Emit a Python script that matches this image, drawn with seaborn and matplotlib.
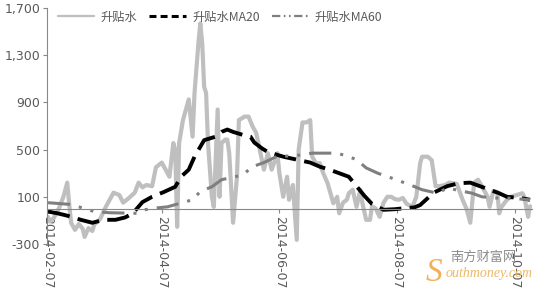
import matplotlib
matplotlib.use("Agg")
import matplotlib.pyplot as plt
import matplotlib.dates as mdates
from matplotlib.lines import Line2D
from matplotlib.ticker import FuncFormatter, FixedLocator
import seaborn as sns
import pandas as pd

# ---------------- data ----------------
basis_dates = [
    "2014-02-07", "2014-02-08", "2014-02-10", "2014-02-12", "2014-02-13", "2014-02-15",
    "2014-02-17", "2014-02-18", "2014-02-19", "2014-02-21", "2014-02-23", "2014-02-25",
    "2014-02-26", "2014-02-28", "2014-03-02", "2014-03-03", "2014-03-06", "2014-03-09",
    "2014-03-11", "2014-03-13", "2014-03-16", "2014-03-18", "2014-03-21", "2014-03-24",
    "2014-03-26", "2014-03-28", "2014-03-30", "2014-04-02", "2014-04-04", "2014-04-07",
    "2014-04-09", "2014-04-11", "2014-04-13", "2014-04-14", "2014-04-15", "2014-04-16",
    "2014-04-18", "2014-04-21", "2014-04-23", "2014-04-24", "2014-04-26", "2014-04-27",
    "2014-04-28", "2014-04-29", "2014-04-30", "2014-05-01", "2014-05-03", "2014-05-04",
    "2014-05-06", "2014-05-07", "2014-05-08", "2014-05-10", "2014-05-11", "2014-05-12",
    "2014-05-14", "2014-05-16", "2014-05-17", "2014-05-20", "2014-05-22", "2014-05-24",
    "2014-05-26", "2014-05-29", "2014-05-30", "2014-06-01", "2014-06-03", "2014-06-06",
    "2014-06-07", "2014-06-09", "2014-06-11", "2014-06-12", "2014-06-14", "2014-06-16",
    "2014-06-17", "2014-06-19", "2014-06-21", "2014-06-23", "2014-06-24", "2014-06-26",
    "2014-06-28", "2014-06-29", "2014-07-02", "2014-07-05", "2014-07-07", "2014-07-08",
    "2014-07-10", "2014-07-12", "2014-07-13", "2014-07-15", "2014-07-17", "2014-07-19",
    "2014-07-20", "2014-07-22", "2014-07-24", "2014-07-25", "2014-07-27", "2014-07-29",
    "2014-07-31", "2014-08-02", "2014-08-04", "2014-08-06", "2014-08-08", "2014-08-10",
    "2014-08-12", "2014-08-15", "2014-08-17", "2014-08-19", "2014-08-20", "2014-08-23",
    "2014-08-25", "2014-08-27", "2014-08-29", "2014-09-01", "2014-09-03", "2014-09-07",
    "2014-09-10", "2014-09-12", "2014-09-14", "2014-09-16", "2014-09-18", "2014-09-20",
    "2014-09-23", "2014-09-24", "2014-09-26", "2014-09-28", "2014-09-29", "2014-09-30",
    "2014-10-03", "2014-10-05", "2014-10-08", "2014-10-11", "2014-10-12", "2014-10-14",
    "2014-10-15",
]
basis_values = [
    -70, -110, -80, -20, 15, 100,
    220, 40, -120, -180, -130, -170,
    -240, -165, -190, -135, -90, 15,
    75, 135, 115, 50, 90, 135,
    220, 180, 200, 190, 350, 390,
    330, 270, 555, 500, -155, 555,
    750, 925, 610, 980, 1400, 1570,
    1400, 1030, 980, 555, 100, 15,
    840, 100, 555, 585, 585, 470,
    -120, 270, 750, 780, 780, 700,
    640, 410, 330, 470, 330, 470,
    300, 100, 270, 75, 200, -265,
    500, 730, 730, 750, 440, 385,
    385, 330, 215, 45, 100, -40,
    50, 75, 130, 160, 15, 160,
    50, -95, -95, 20, 0, -70,
    50, 100, 100, 80, 75, 90,
    40, 15, 100, 385, 440, 440,
    410, 190, 190, 200, 220, 210,
    75, 0, -120, 220, 245, 190,
    100, 15, 150, 140, -40, 10,
    75, 100, 115, 130, 100, -70,
    20,
]

ma20_dates = [
    "2014-02-07", "2014-02-12", "2014-02-17", "2014-02-24", "2014-03-02", "2014-03-08",
    "2014-03-14", "2014-03-19", "2014-03-23", "2014-03-28", "2014-04-02", "2014-04-08",
    "2014-04-14", "2014-04-17", "2014-04-21", "2014-04-24", "2014-04-29", "2014-05-05",
    "2014-05-08", "2014-05-11", "2014-05-14", "2014-05-19", "2014-05-23", "2014-05-25",
    "2014-05-29", "2014-06-01", "2014-06-09", "2014-06-16", "2014-06-23", "2014-06-28",
    "2014-07-03", "2014-07-08", "2014-07-13", "2014-07-17", "2014-07-21", "2014-07-25",
    "2014-07-31", "2014-08-06", "2014-08-12", "2014-08-16", "2014-08-19", "2014-08-26",
    "2014-09-02", "2014-09-08", "2014-09-14", "2014-09-19", "2014-09-24", "2014-09-29",
    "2014-10-03", "2014-10-10", "2014-10-15",
]
ma20_values = [
    -25, -40, -60, -95, -120, -95,
    -95, -75, -40, 55, 100, 140,
    185, 270, 330, 440, 580, 610,
    650, 670, 650, 625, 610, 560,
    510, 480, 440, 415, 390, 355,
    330, 300, 270, 190, 110, 40,
    -10, -5, 5, 10, 30, 135,
    190, 215, 220, 190, 160, 130,
    100, 90, 75,
]

ma60_dates = [
    "2014-02-07", "2014-02-19", "2014-02-26", "2014-03-03", "2014-03-11", "2014-03-25",
    "2014-03-29", "2014-04-04", "2014-04-10", "2014-04-23", "2014-04-27", "2014-05-03",
    "2014-05-08", "2014-05-19", "2014-05-24", "2014-05-30", "2014-06-06", "2014-06-14",
    "2014-06-24", "2014-07-01", "2014-07-07", "2014-07-13", "2014-07-17", "2014-07-22",
    "2014-07-28", "2014-08-04", "2014-08-14", "2014-08-20", "2014-08-28", "2014-09-02",
    "2014-09-15", "2014-09-20", "2014-09-27", "2014-10-03", "2014-10-15",
]
ma60_values = [
    50, 35, 0, -25, -35, -40,
    -10, 5, 15, 75, 145, 185,
    245, 285, 355, 390, 445, 445,
    470, 470, 470, 440, 415, 345,
    300, 260, 200, 160, 130, 175,
    130, 100, 90, 90, 75,
]

series_labels = ["升贴水", "升贴水MA20", "升贴水MA60"]
x_tick_dates = ["2014-02-07", "2014-04-07", "2014-06-07", "2014-08-07", "2014-10-07"]
y_ticks = [-300, 100, 500, 900, 1300, 1700]

# ---------------- style ----------------
sns.set_theme(style="white")
plt.rcParams['font.family'] = ['DejaVu Sans', 'Noto Sans CJK SC']
plt.rcParams['axes.unicode_minus'] = False
plt.rcParams['lines.scale_dashes'] = False

CJK = ['Noto Sans CJK SC', 'DejaVu Sans']
TXT = '#595959'
AX = '#888888'

fig = plt.figure(figsize=(5.36, 2.90), dpi=100)
ax = fig.add_axes([47 / 536, 1 - 244 / 290, (532 - 47) / 536, (244 - 8) / 290])

df_b = pd.DataFrame({"date": pd.to_datetime(basis_dates), "v": basis_values})
df_20 = pd.DataFrame({"date": pd.to_datetime(ma20_dates), "v": ma20_values})
df_60 = pd.DataFrame({"date": pd.to_datetime(ma60_dates), "v": ma60_values})

sns.lineplot(data=df_b, x="date", y="v", ax=ax, color='#BFBFBF', linewidth=3.0,
             estimator=None, sort=False)
ax.lines[-1].set_solid_joinstyle('round')
sns.lineplot(data=df_20, x="date", y="v", ax=ax, color='black', linewidth=2.8,
             estimator=None, sort=False)
ax.lines[-1].set_linestyle((0, (16, 6)))
sns.lineplot(data=df_60, x="date", y="v", ax=ax, color='#7F7F7F', linewidth=2.2,
             estimator=None, sort=False)
ax.lines[-1].set_linestyle((0, (16, 6.5, 2.2, 6.5, 2.2, 6.5)))

ax.set_ylim(-300, 1700)
ax.set_xlim(pd.Timestamp("2014-02-06 12:00"), pd.Timestamp("2014-10-16"))
ax.set_xlabel("")
ax.set_ylabel("")

ax.yaxis.set_major_locator(FixedLocator(y_ticks))
ax.yaxis.set_major_formatter(FuncFormatter(lambda v, p: f"{int(v):,}"))
ax.set_xticks(pd.to_datetime(x_tick_dates))
ax.xaxis.set_major_formatter(mdates.DateFormatter('%Y-%m-%d'))

for s in ['top', 'right']:
    ax.spines[s].set_visible(False)
ax.spines['left'].set_color(AX)
ax.spines['left'].set_linewidth(0.8)
ax.spines['bottom'].set_color(AX)
ax.spines['bottom'].set_linewidth(0.8)
ax.spines['bottom'].set_position(('data', 0))

ax.tick_params(axis='y', left=True, direction='out', length=3, width=0.8, color=AX,
               labelsize=9, labelcolor=TXT, pad=2)
ax.tick_params(axis='x', bottom=True, direction='out', length=3, width=0.8, color=AX,
               labelsize=9, labelcolor=TXT, pad=2, labelrotation=-90)
ax.grid(False)

handles = [
    Line2D([], [], color='#BFBFBF', lw=1.6),
    Line2D([], [], color='black', lw=2.2, linestyle=(0, (5, 3))),
    Line2D([], [], color='#7F7F7F', lw=1.6, linestyle=(0, (6, 2.5, 1.2, 2.5, 1.2, 2.5))),
]
fig.legend(handles, series_labels, loc='center', bbox_to_anchor=(220 / 536, 1 - 17 / 290),
           ncol=3, frameon=False, prop={'family': CJK, 'size': 8.8},
           handlelength=3.0, handletextpad=0.5, columnspacing=1.0, labelcolor=TXT)

# watermark
fig.text(426 / 536, 1 - 281 / 290, "S", fontsize=24, style='italic', color='#F2A33A',
         alpha=0.85, family=['Liberation Serif'])
fig.text(450 / 536, 1 - 257 / 290, "南方财富网", fontsize=9.5, color='#8C8C8C',
         family=CJK, va='center')
fig.text(446 / 536, 1 - 274 / 290, "outhmoney.com", fontsize=10, style='italic',
         color='#EDB968', family=['Liberation Serif'], va='center')

fig.savefig("out.png", dpi=100)
